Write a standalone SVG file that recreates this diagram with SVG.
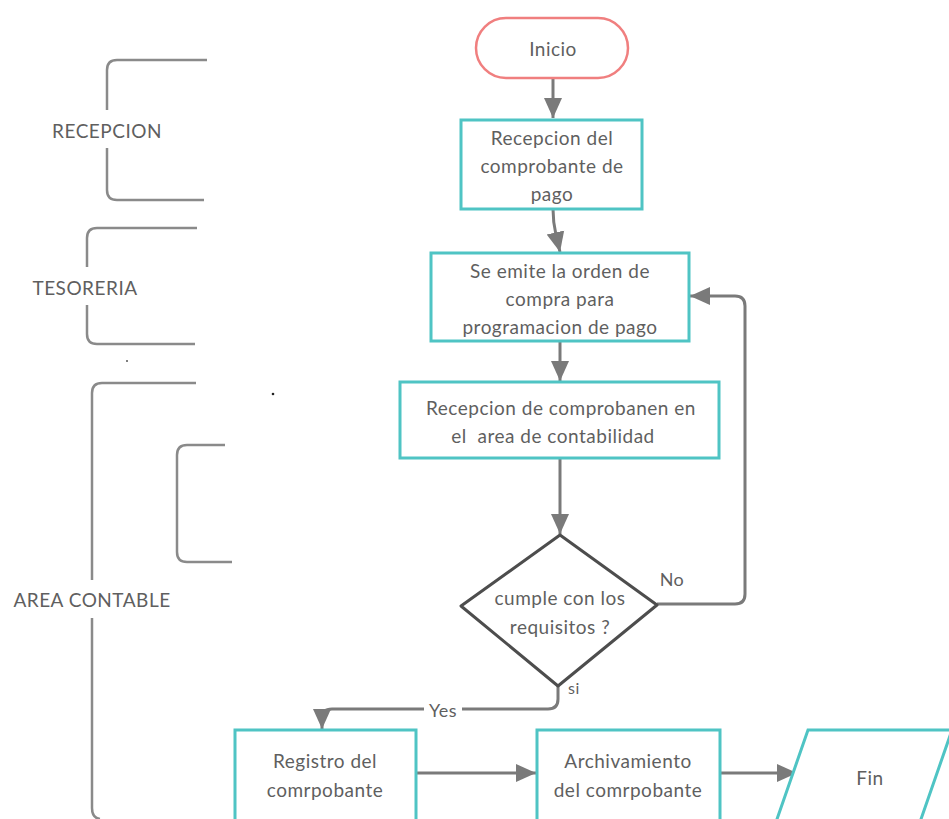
<svg xmlns="http://www.w3.org/2000/svg" width="949" height="819" viewBox="0 0 949 819">
<style>
.t{font-family:Lato,"Open Sans","Liberation Sans",sans-serif;font-size:19px;letter-spacing:0.5px;fill:#5f5f5f;text-anchor:middle}
.box{fill:#fff;stroke:#4fc4c4;stroke-width:3}
.br{fill:none;stroke:#8a8a8a;stroke-width:2.5}
.c{fill:none;stroke:#7a7a7a;stroke-width:3}
</style>
<defs>
<marker id="a" viewBox="0 0 20 20" refX="20" refY="10" markerWidth="20" markerHeight="20" markerUnits="userSpaceOnUse" orient="auto">
<path d="M0,1 L20,10 L0,19 z" fill="#7a7a7a"/>
</marker>
</defs>
<rect width="949" height="819" fill="#fff"/>

<g id="brackets">
<g id="recepcion">
<path class="br" d="M207,60 H117 Q107,60 107,70 V110 M107,148 V190 Q107,200 117,200 H204"/>
<text class="t" x="107" y="138">RECEPCION</text>
</g>
<g id="tesoreria">
<path class="br" d="M197,228 H97 Q87,228 87,238 V267 M87,305 V334 Q87,344 97,344 H195"/>
<text class="t" x="85" y="295">TESORERIA</text>
</g>
<g id="area-contable">
<path class="br" d="M196,383 H102 Q92,383 92,393 V580 M92,618 V808 Q92,818 100,819"/>
<text class="t" x="92" y="607">AREA CONTABLE</text>
<path class="br" d="M225,445 H187 Q177,445 177,455 V552 Q177,562 187,562 H232"/>
</g>
<circle cx="127" cy="361" r="1" fill="#555"/>
<circle cx="273" cy="394" r="1.3" fill="#222"/>
</g>

<g id="connectors">
<path class="c" d="M553,78 V118" marker-end="url(#a)"/>
<path class="c" d="M553,209 Q553,222 556,235 L560,252" marker-end="url(#a)"/>
<path class="c" d="M560,341 V381" marker-end="url(#a)"/>
<path class="c" d="M560,458 V534" marker-end="url(#a)"/>
<path class="c" d="M657,604 H735 Q745,604 745,594 V306 Q745,296 735,296 H690" marker-end="url(#a)"/>
<path class="c" d="M558,686 V699 Q558,709 548,709 H332 Q322,709 322,719 V729" marker-end="url(#a)"/>
<path class="c" d="M416,773 H536" marker-end="url(#a)"/>
<path class="c" d="M720,773 H797" marker-end="url(#a)"/>
<rect x="424" y="699" width="38" height="20" fill="#fff"/>
<text class="t" x="443" y="717" style="font-size:18px">Yes</text>
<text class="t" x="672" y="586" style="font-size:18px">No</text>
<text class="t" x="574" y="694" style="font-size:16px">si</text>
</g>

<g id="inicio">
<rect x="476" y="18" width="152" height="60" rx="30" fill="#fff" stroke="#f07f7f" stroke-width="2.5"/>
<text class="t" x="553" y="56">Inicio</text>
</g>

<g id="recepcion-comprobante">
<rect class="box" x="461" y="120" width="181" height="89"/>
<text class="t" x="552" y="145">Recepcion del</text>
<text class="t" x="552" y="173">comprobante de</text>
<text class="t" x="552" y="201">pago</text>
</g>

<g id="orden-compra">
<rect class="box" x="431" y="253" width="258" height="88"/>
<text class="t" x="560" y="278">Se emite la orden de</text>
<text class="t" x="560" y="306">compra para</text>
<text class="t" x="560" y="334">programacion de pago</text>
</g>

<g id="recepcion-contabilidad">
<rect class="box" x="400" y="382" width="319" height="76"/>
<text class="t" x="561" y="415">Recepcion de comprobanen en</text>
<text class="t" x="553" y="443" xml:space="preserve">el  area de contabilidad</text>
</g>

<g id="decision">
<path d="M560,535 L657,605 L558,686 L461,606 Z" fill="#fff" stroke="#4d4d4d" stroke-width="3" stroke-linejoin="round"/>
<text class="t" x="560" y="605">cumple con los</text>
<text class="t" x="560" y="634">requisitos ?</text>
</g>

<g id="registro">
<rect class="box" x="235" y="730" width="181" height="95"/>
<text class="t" x="325" y="768">Registro del</text>
<text class="t" x="325" y="797">comrpobante</text>
</g>

<g id="archivamiento">
<rect class="box" x="537" y="730" width="183" height="95"/>
<text class="t" x="628" y="768">Archivamiento</text>
<text class="t" x="628" y="797">del comrpobante</text>
</g>

<g id="fin">
<path d="M808,730 H952 L920,822 H776 Z" fill="#fff" stroke="#4fc4c4" stroke-width="3"/>
<text class="t" x="870" y="785">Fin</text>
</g>
</svg>
